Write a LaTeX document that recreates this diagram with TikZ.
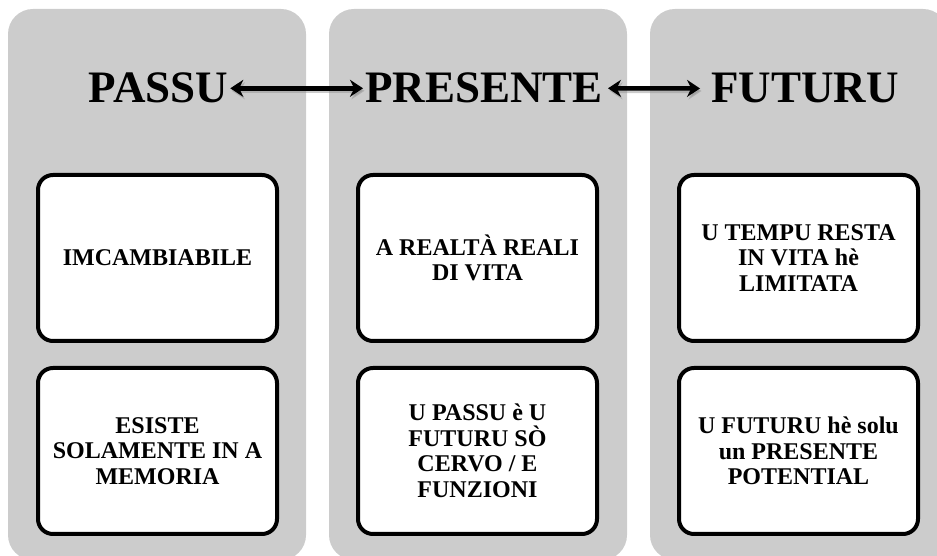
\documentclass[tikz,border=0pt]{standalone}
\usepackage{fontspec}
\setmainfont{Liberation Serif}
\usetikzlibrary{arrows.meta}
\definecolor{panelgray}{RGB}{204,204,204}
\tikzset{
  panel/.style={fill=panelgray, rounded corners=25pt},
  card/.style={draw=black, line width=4pt, fill=white, rounded corners=15pt,
    minimum width=239pt, minimum height=166pt, align=center,
    font=\fontsize{24}{25.5}\selectfont\bfseries},
  heading/.style={font=\fontsize{45}{45}\selectfont\bfseries, anchor=base, inner sep=2pt},
  link/.style={draw=black, line width=4.5pt, arrows={Stealth[length=13pt,width=17pt]-Stealth[length=13pt,width=17pt]}},
  linkshadow/.style={link, draw=black!45, opacity=.45},
}
\newcommand\colpanel[1]{\fill[panel] (8+321*#1,-4) rectangle (306+321*#1,547);}

\begin{document}
\begin{tikzpicture}[x=1pt,y=1pt]
  \useasboundingbox (0,0) rectangle (937,556);

  % Grey columns
  \foreach \c in {0,1,2}{
      \colpanel{\c}
    }

  % Headings
  \node[heading] (passu) at (158.5,453) {PASSU};
  \node[heading] (presente) at (484,453) {PRESENTE};
  \node[heading] (futuru) at (805,453) {FUTURU};

  % Arrows between the headings
  \draw[linkshadow] ([shift={(1.5,-2.5)}]passu.east) -- ([shift={(1.5,-2.5)}]presente.west);
  \draw[linkshadow] ([shift={(4.5,-2.5)}]presente.east) -- ([shift={(-7.5,-2.5)}]futuru.west);
  \draw[link] (passu.east) -- (presente.west);
  \draw[link] ([xshift=3pt]presente.east) -- ([xshift=-9pt]futuru.west);

  % Upper cards
  \node[card] (imcamb) at (157.5,298) {IMCAMBIABILE};
  \node[card] (realta) at (477.5,298) {A REALTÀ REALI\\DI VITA};
  \node[card] (tempu) at (798.5,298) {U TEMPU RESTA\\IN VITA hè\\LIMITATA};

  % Lower cards
  \node[card] (esiste) at (157.5,105) {ESISTE\\SOLAMENTE IN A\\MEMORIA};
  \node[card] (cervo) at (477.5,105) {U PASSU è U\\FUTURU SÒ\\CERVO / E\\FUNZIONI};
  \node[card] (potential) at (798.5,105) {U FUTURU hè solu\\un PRESENTE\\POTENTIAL};
\end{tikzpicture}
\end{document}
